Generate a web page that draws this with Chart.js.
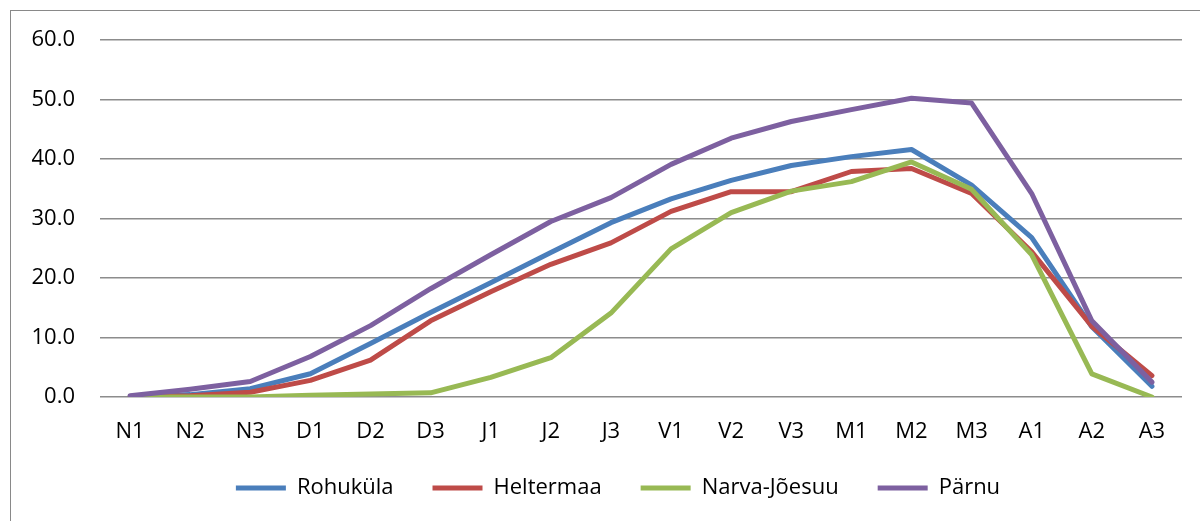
<!DOCTYPE html>
<html>
<head>
<meta charset="utf-8">
<script src="https://cdn.jsdelivr.net/npm/chart.js@4/dist/chart.umd.min.js"></script>
<style>
  html, body { margin: 0; padding: 0; background: #fff; }
  #wrap { width: 1200px; height: 521px; position: relative; }
</style>
</head>
<body>
<div id="wrap"><canvas id="c" width="1200" height="521"></canvas></div>
<script>
const categories = ['N1','N2','N3','D1','D2','D3','J1','J2','J3','V1','V2','V3','M1','M2','M3','A1','A2','A3'];
const seriesNames = ['Rohuküla','Heltermaa','Narva-Jõesuu','Pärnu'];
const rohukula = [0.0,0.4,1.4,3.9,9.0,14.2,19.2,24.3,29.3,33.3,36.4,38.9,40.4,41.6,35.6,26.8,11.8,1.8];
const heltermaa = [0.0,0.2,0.8,2.8,6.2,12.8,17.7,22.3,25.9,31.2,34.5,34.5,37.9,38.4,34.2,24.4,11.9,3.6];
const narvaJoesuu = [0.0,0.0,0.0,0.3,0.5,0.7,3.3,6.6,14.1,24.9,31.0,34.6,36.2,39.5,34.9,23.9,3.9,0.0];
const parnu = [0.2,1.3,2.6,6.8,12.0,18.2,23.9,29.5,33.5,39.1,43.5,46.3,48.3,50.2,49.4,34.2,12.8,2.5];
const yTicks = [0,10,20,30,40,50,60];

const colors = ['#4A7EBB','#BE4B48','#98B954','#7D60A0'];
const values = [rohukula, heltermaa, narvaJoesuu, parnu];
const FONT = 'Open Sans';

const frame = {
  id: 'frame',
  beforeDraw(chart) {
    const ctx = chart.ctx;
    ctx.save();
    ctx.fillStyle = '#fff';
    ctx.fillRect(0, 0, chart.width, chart.height);
    ctx.strokeStyle = '#898989';
    ctx.lineWidth = 1;
    ctx.strokeRect(10.5, 10.5, 1300, 600);
    ctx.restore();
  },
  afterLayout(chart) {
    if (chart.legend) {
      chart.legend.left += 22;
      chart.legend.right += 22;
      chart.legend.top -= 9;
      chart.legend.bottom -= 9;
    }
  }
};

new Chart(document.getElementById('c'), {
  type: 'line',
  data: {
    labels: categories,
    datasets: values.map((v, i) => ({
      label: seriesNames[i],
      data: v,
      borderColor: colors[i],
      backgroundColor: colors[i],
      borderWidth: 5,
      pointRadius: 0,
      tension: 0,
      borderCapStyle: 'round',
      borderJoinStyle: 'round',
      fill: false,
      order: 4 - i
    }))
  },
  options: {
    responsive: false,
    animation: false,
    devicePixelRatio: 1,
    layout: { padding: { left: 10, right: 18, top: 40, bottom: 3 } },
    plugins: {
      tooltip: { enabled: false },
      legend: {
        position: 'bottom',
        labels: {
          font: { family: FONT, size: 22 },
          color: '#000',
          boxWidth: 50,
          boxHeight: 5,
          padding: 39,
          useBorderRadius: true,
          borderRadius: 2.5,
          generateLabels(chart) {
            return chart.data.datasets.map((ds, i) => ({
              text: ds.label,
              fillStyle: ds.borderColor,
              strokeStyle: ds.borderColor,
              lineWidth: 0,
              hidden: false,
              datasetIndex: i,
              fontColor: '#000'
            }));
          }
        }
      }
    },
    scales: {
      x: {
        offset: true,
        grid: { display: false, drawTicks: false, offset: true },
        border: { display: false },
        ticks: { font: { family: FONT, size: 22 }, color: '#000', padding: 22, maxRotation: 0 },
        afterFit(scale) { scale.height = 50; }
      },
      y: {
        min: 0, max: 60,
        afterBuildTicks(scale) { scale.ticks = yTicks.map(v => ({ value: v })); },
        grid: { color: '#8c8c8c', lineWidth: 1.5, drawTicks: false },
        border: { display: false },
        ticks: {
          font: { family: FONT, size: 22 }, color: '#000', padding: 25,
          callback: v => Number(v).toFixed(1)
        },
        afterFit(scale) { scale.width = 90; }
      }
    }
  },
  plugins: [frame]
});
</script>
</body>
</html>
